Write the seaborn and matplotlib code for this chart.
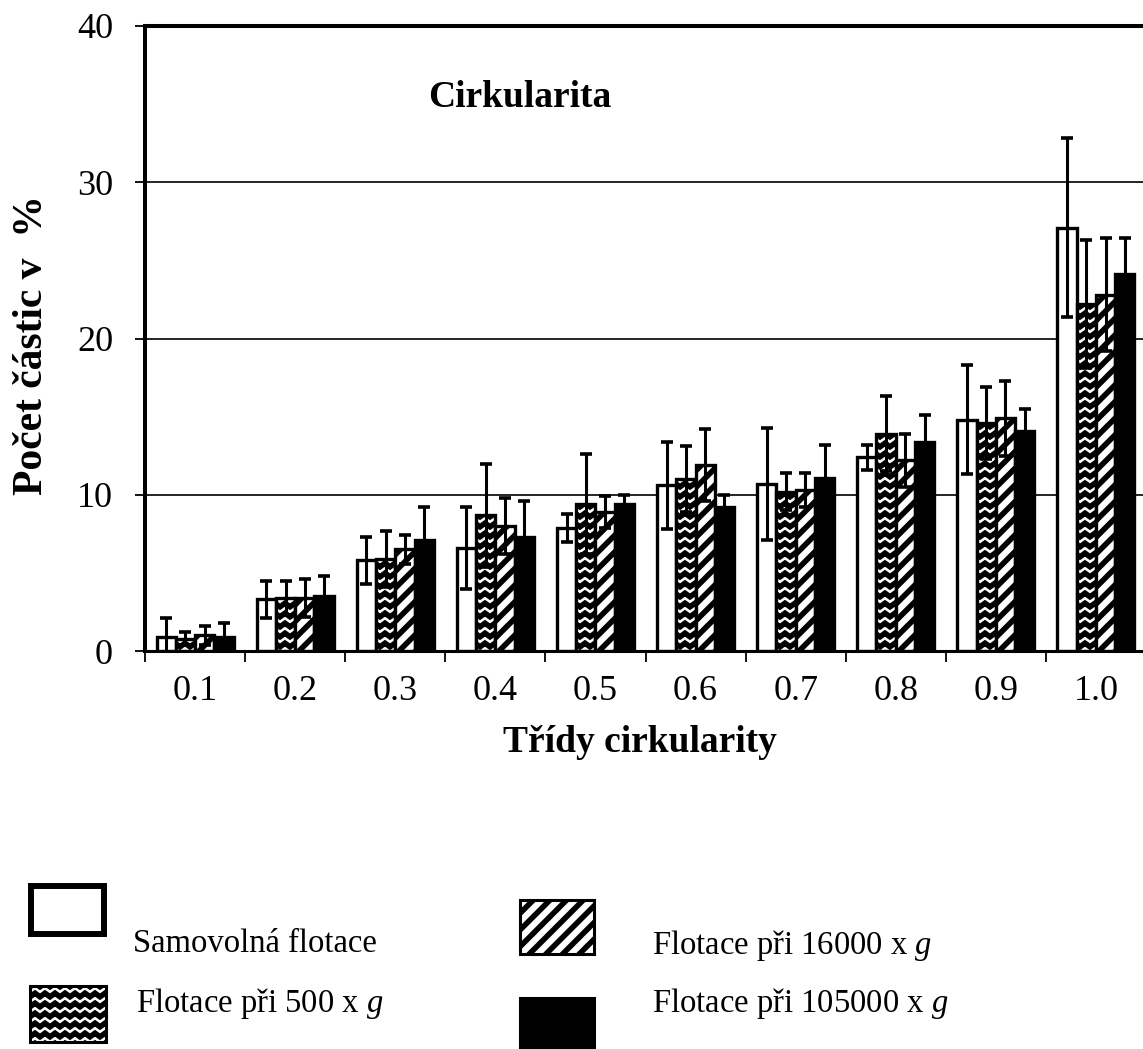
import warnings

import numpy as np
import pandas as pd
import matplotlib
matplotlib.use("Agg")
import matplotlib.pyplot as plt
import matplotlib.hatch as mhatch
from matplotlib.path import Path
from matplotlib.patches import Rectangle
import seaborn as sns

warnings.filterwarnings("ignore")

# ---------------------------------------------------------------- data
tridy = ["0.1", "0.2", "0.3", "0.4", "0.5", "0.6", "0.7", "0.8", "0.9", "1.0"]
serie = ["Samovolná flotace", "Flotace při 500 x $g$",
         "Flotace při 16000 x $g$", "Flotace při 105000 x $g$"]

samovolna = [0.9, 3.3, 5.8, 6.6, 7.9, 10.6, 10.7, 12.4, 14.8, 27.1]
flot_500 = [0.8, 3.4, 5.9, 8.7, 9.4, 11.0, 10.2, 13.9, 14.6, 22.2]
flot_16000 = [1.0, 3.4, 6.5, 8.0, 8.9, 11.9, 10.3, 12.2, 14.9, 22.8]
flot_105000 = [0.9, 3.5, 7.1, 7.3, 9.4, 9.2, 11.1, 13.4, 14.1, 24.1]

sd_samovolna = [1.2, 1.2, 1.5, 2.6, 0.9, 2.8, 3.6, 0.8, 3.5, 5.7]
sd_500 = [0.4, 1.1, 1.8, 3.3, 3.2, 2.1, 1.2, 2.4, 2.3, 4.1]
sd_16000 = [0.6, 1.2, 0.9, 1.8, 1.0, 2.3, 1.1, 1.7, 2.4, 3.6]
sd_105000 = [0.9, 1.3, 2.1, 2.3, 0.6, 0.8, 2.1, 1.7, 1.4, 2.3]

prumery = [samovolna, flot_500, flot_16000, flot_105000]
odchylky = [sd_samovolna, sd_500, sd_16000, sd_105000]

barvy = ["white", "white", "white", "black"]
srafy = [None, "zz", "//", None]


# ---------------------------------------------------------------- zigzag hatch
class ZigzagHatch(mhatch.HatchPatternBase):
    """Horizontal zigzag lines, selected with the 'z' hatch character."""
    teeth = 10

    def __init__(self, hatch, density):
        self.num_lines = int(hatch.count("z") * density * 5 / 6)
        self.num_vertices = self.num_lines * (2 * self.teeth + 1)

    def set_vertices_and_codes(self, vertices, codes):
        npts = 2 * self.teeth + 1
        xs = np.linspace(0.0, 1.0, npts)
        amp = 0.18 / self.num_lines
        offs = np.where(np.arange(npts) % 2 == 0, -amp, amp)
        for k in range(self.num_lines):
            y0 = (k + 0.5) / self.num_lines
            sl = slice(k * npts, (k + 1) * npts)
            vertices[sl, 0] = xs
            vertices[sl, 1] = y0 + offs
            codes[sl] = Path.LINETO
            codes[k * npts] = Path.MOVETO


mhatch._hatch_types.append(ZigzagHatch)

# ---------------------------------------------------------------- style
sns.set_theme(style="ticks")
plt.rcParams["font.family"] = ["Liberation Serif", "DejaVu Serif"]
plt.rcParams["mathtext.fontset"] = "custom"
plt.rcParams["mathtext.rm"] = "Liberation Serif"
plt.rcParams["mathtext.it"] = "Liberation Serif:italic"
plt.rcParams["hatch.linewidth"] = 4.0
plt.rcParams["hatch.color"] = "black"
for key in ("text.color", "axes.labelcolor", "xtick.color", "ytick.color",
            "axes.edgecolor"):
    plt.rcParams[key] = "black"

W, H = 1143, 1049
fig = plt.figure(figsize=(W / 100, H / 100), dpi=100)
ax = fig.add_axes([145 / W, 1 - 651 / H, (1146 - 145) / W, (651 - 26) / H])

df = pd.DataFrame({
    "trida": np.tile(tridy, len(serie)),
    "serie": np.repeat(serie, len(tridy)),
    "podil": np.concatenate(prumery),
})

sns.barplot(data=df, x="trida", y="podil", hue="serie", order=tridy,
            hue_order=serie, palette=barvy, saturation=1, width=0.77,
            edgecolor="black", linewidth=2.4, errorbar=None, legend=False,
            ax=ax)

for cont, sraf, sd, mu in zip(ax.containers, srafy, odchylky, prumery):
    stredy = []
    for bar in cont:
        if sraf:
            bar.set_hatch(sraf)
        stredy.append(bar.get_x() + bar.get_width() / 2)
    ax.errorbar(stredy, mu, yerr=sd, fmt="none", ecolor="black",
                elinewidth=2.2, capsize=4.5, capthick=2.6, zorder=3)

# ---------------------------------------------------------------- axes
ax.set_xlim(-0.5, 9.5)
ax.set_ylim(0, 40)
ax.set_xticks(np.arange(-0.5, 10, 1.0))
ax.set_xticks(np.arange(len(tridy)), labels=tridy, minor=True)
ax.tick_params(axis="x", which="major", length=8, width=1.3,
               direction="out", labelbottom=False)
ax.tick_params(axis="x", which="minor", length=0, labelsize=26, pad=17)
ax.set_yticks([0, 10, 20, 30, 40])
ax.tick_params(axis="y", length=7, width=1.3, direction="out",
               labelsize=26, pad=16)

ax.grid(axis="y", color="black", linewidth=1.2)
ax.set_axisbelow(True)
ax.spines["right"].set_visible(False)
ax.spines["left"].set_linewidth(2.9)
ax.spines["top"].set_linewidth(2.9)
ax.spines["bottom"].set_linewidth(2.2)

ax.set_xlabel("Třídy cirkularity", fontsize=27, fontweight="bold")
ax.xaxis.label.set_verticalalignment("center")
ax.xaxis.set_label_coords(0.4945, -0.146)
ax.set_ylabel("Počet částic v  %", fontsize=30, fontweight="bold")
ax.yaxis.label.set_verticalalignment("center")
ax.yaxis.set_label_coords(-0.113, 0.49)

ax.text(0.3746, 0.886, "Cirkularita", transform=ax.transAxes,
        fontsize=27, fontweight="bold", ha="center", va="center")


# ---------------------------------------------------------------- legend
def obdelnik(x0, y0, x1, y1, **kw):
    r = Rectangle((x0 / W, 1 - y1 / H), (x1 - x0) / W, (y1 - y0) / H,
                  transform=fig.transFigure, **kw)
    fig.add_artist(r)


obdelnik(31, 886, 104, 934, facecolor="white", edgecolor="black", linewidth=4.3)
obdelnik(30, 986, 106, 1042, facecolor="white", edgecolor="black",
         linewidth=2.2, hatch=srafy[1])
obdelnik(520, 900, 594, 954, facecolor="white", edgecolor="black",
         linewidth=2.2, hatch=srafy[2])
obdelnik(520, 998, 594, 1052, facecolor="black", edgecolor="black",
         linewidth=2.2)

popisky = [(133, 952), (136, 1012), (652, 954), (652, 1012)]
for (px, py), nazev in zip(popisky, serie):
    fig.text(px / W, 1 - py / H, nazev, fontsize=23.5, ha="left",
             va="baseline")

fig.savefig("out.png", dpi=100)
